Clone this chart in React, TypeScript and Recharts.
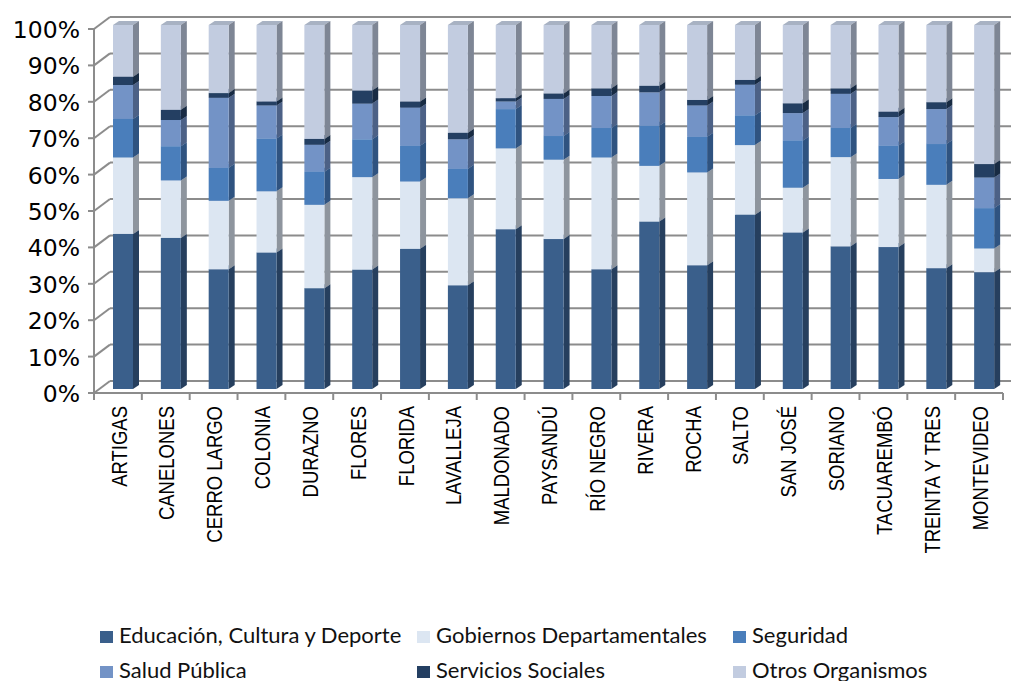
import React from "react"
import { BarChart, Bar, XAxis, YAxis, CartesianGrid } from "recharts"

const categories = [
  "ARTIGAS", "CANELONES", "CERRO LARGO", "COLONIA", "DURAZNO", "FLORES", "FLORIDA",
  "LAVALLEJA", "MALDONADO", "PAYSANDÚ", "RÍO NEGRO", "RIVERA", "ROCHA", "SALTO",
  "SAN JOSÉ", "SORIANO", "TACUAREMBÓ", "TREINTA Y TRES", "MONTEVIDEO",
]

const educacion = [42.6, 41.5, 32.9, 37.5, 27.7, 32.8, 38.5, 28.5, 43.9, 41.2, 32.9, 46.0, 34.0, 47.9, 43.0, 39.2, 39.0, 33.2, 32.1]
const gobiernos = [21.0, 15.8, 18.8, 16.8, 22.9, 25.4, 18.5, 23.9, 22.2, 21.8, 30.7, 15.3, 25.5, 19.1, 12.3, 24.5, 18.7, 22.9, 6.5]
const seguridad = [10.6, 9.4, 9.1, 14.5, 9.1, 10.4, 9.8, 8.1, 10.8, 6.5, 8.1, 11.0, 9.8, 8.2, 13.0, 8.0, 9.2, 11.2, 11.1]
const salud = [9.3, 7.2, 19.2, 9.1, 7.4, 9.8, 10.5, 8.1, 2.1, 10.2, 8.8, 9.2, 8.6, 8.4, 7.5, 9.4, 7.8, 9.6, 8.4]
const servicios = [2.3, 2.8, 1.3, 1.1, 1.6, 3.6, 1.7, 1.8, 0.9, 1.5, 2.1, 1.8, 1.5, 1.3, 2.7, 1.5, 1.5, 1.9, 3.7]
const otros = [14.2, 23.3, 18.7, 21.0, 31.3, 18.0, 21.0, 29.6, 20.1, 18.8, 17.4, 16.7, 20.6, 15.1, 21.5, 17.4, 23.8, 21.2, 38.2]

const yTicks = [0, 0.1, 0.2, 0.3, 0.4, 0.5, 0.6, 0.7, 0.8, 0.9, 1]

const series = [
  { key: "edu", name: "Educación, Cultura y Deporte", values: educacion, front: "#3A5F8B", side: "#263F5E", top: "#4A6E9A" },
  { key: "gob", name: "Gobiernos Departamentales", values: gobiernos, front: "#DCE6F2", side: "#8E959E", top: "#C9D2DD" },
  { key: "seg", name: "Seguridad", values: seguridad, front: "#4A7EBB", side: "#2F5380", top: "#5A8AC2" },
  { key: "sal", name: "Salud Pública", values: salud, front: "#7393C6", side: "#4C6186", top: "#8099C8" },
  { key: "ser", name: "Servicios Sociales", values: servicios, front: "#243F62", side: "#182B43", top: "#2F4B70" },
  { key: "otr", name: "Otros Organismos", values: otros, front: "#C2CCE0", side: "#7E8695", top: "#A8B2C3" },
]

const data = categories.map((name, i) => {
  const row: Record<string, string | number> = { name }
  series.forEach((s) => (row[s.key] = s.values[i]))
  return row
})

// layout
const W = 1011
const PLOT_LEFT = 94
const PLOT_RIGHT = 1003
const AXIS_Y = 393
const WALL_DX = 16
const WALL_DY = 12
const GRID = "#8C8C8C"
const BAND = (PLOT_RIGHT - PLOT_LEFT) / categories.length

const barShape = (front: string, side: string, top: string) => (props: any) => {
  const { x, y, width, height } = props
  if (!height || height <= 0) return <g />
  const fx = x + 5
  const fy = y - 4
  const dx = 6
  const dy = 4
  return (
    <g>
      <polygon points={`${fx},${fy} ${fx + dx},${fy - dy} ${fx + width + dx},${fy - dy} ${fx + width},${fy}`} fill={top} />
      <polygon
        points={`${fx + width},${fy} ${fx + width + dx},${fy - dy} ${fx + width + dx},${fy + height - dy} ${fx + width},${fy + height}`}
        fill={side}
      />
      <rect x={fx} y={fy} width={width} height={height} fill={front} />
    </g>
  )
}

const YTick = (props: any) => {
  const { y, payload } = props
  return (
    <g>
      <line x1={PLOT_LEFT} y1={y} x2={PLOT_LEFT + WALL_DX} y2={y - WALL_DY} stroke={GRID} strokeWidth={2} />
      <text x={80} y={y + 1} textAnchor="end" dominantBaseline="central" fontFamily="DejaVu Sans" fontSize={23.5} fill="#000">
        {`${Math.round(payload.value * 100)}%`}
      </text>
    </g>
  )
}

const XTick = (props: any) => {
  const { x, payload, index } = props
  return (
    <g>
      <line x1={x - BAND / 2} y1={AXIS_Y} x2={x - BAND / 2} y2={AXIS_Y + 7} stroke={GRID} strokeWidth={2} />
      {index === categories.length - 1 && (
        <line x1={x + BAND / 2} y1={AXIS_Y} x2={x + BAND / 2} y2={AXIS_Y + 7} stroke={GRID} strokeWidth={2} />
      )}
      <text
        transform={`translate(${x + 1},${AXIS_Y + 13}) rotate(-90) scale(1,1.2)`}
        textAnchor="end"
        dominantBaseline="central"
        fontFamily="'Liberation Sans', Arial"
        fontSize={18.5}
        fill="#000"
      >
        {payload.value}
      </text>
    </g>
  )
}

// back-wall grid lines: same positions as the y scale, pushed back into the wall
const gridLines = ({ offset }: any) => yTicks.map((t) => offset.top + offset.height * (1 - t) - WALL_DY)

export default function App() {
  return (
    <div style={{ position: "absolute", left: 0, top: 0, width: W, height: 681, background: "#fff" }}>
      <BarChart
        width={W}
        height={590}
        data={data}
        stackOffset="expand"
        barSize={20}
        margin={{ top: 29, right: W - PLOT_RIGHT, bottom: 17, left: 0 }}
      >
        <CartesianGrid
          vertical={false}
          x={PLOT_LEFT + WALL_DX}
          width={W - PLOT_LEFT - WALL_DX}
          stroke={GRID}
          strokeWidth={2}
          horizontalCoordinatesGenerator={gridLines}
        />
        <XAxis
          dataKey="name"
          interval={0}
          height={180}
          tickLine={false}
          axisLine={{ stroke: GRID, strokeWidth: 2 }}
          tick={<XTick />}
        />
        <YAxis
          width={PLOT_LEFT}
          domain={[0, 1]}
          ticks={yTicks}
          tickSize={6}
          tickLine={{ stroke: GRID, strokeWidth: 2 }}
          axisLine={{ stroke: GRID, strokeWidth: 2 }}
          tick={<YTick />}
        />
        {series.map((s) => (
          <Bar
            key={s.key}
            dataKey={s.key}
            name={s.name}
            stackId="a"
            fill={s.front}
            isAnimationActive={false}
            shape={barShape(s.front, s.side, s.top)}
          />
        ))}
      </BarChart>
      <div
        style={{
          position: "absolute",
          left: 100,
          top: 622,
          display: "grid",
          gridTemplateColumns: "317px 316px 278px",
          rowGap: 9,
          fontFamily: "Lato",
          fontSize: 22,
          lineHeight: "26px",
          color: "#111",
        }}
      >
        {series.map((s) => (
          <div key={s.key} style={{ display: "flex", alignItems: "baseline", whiteSpace: "nowrap" }}>
            <span style={{ width: 13, height: 12, background: s.front, marginRight: 6, display: "inline-block" }} />
            {s.name}
          </div>
        ))}
      </div>
    </div>
  )
}
